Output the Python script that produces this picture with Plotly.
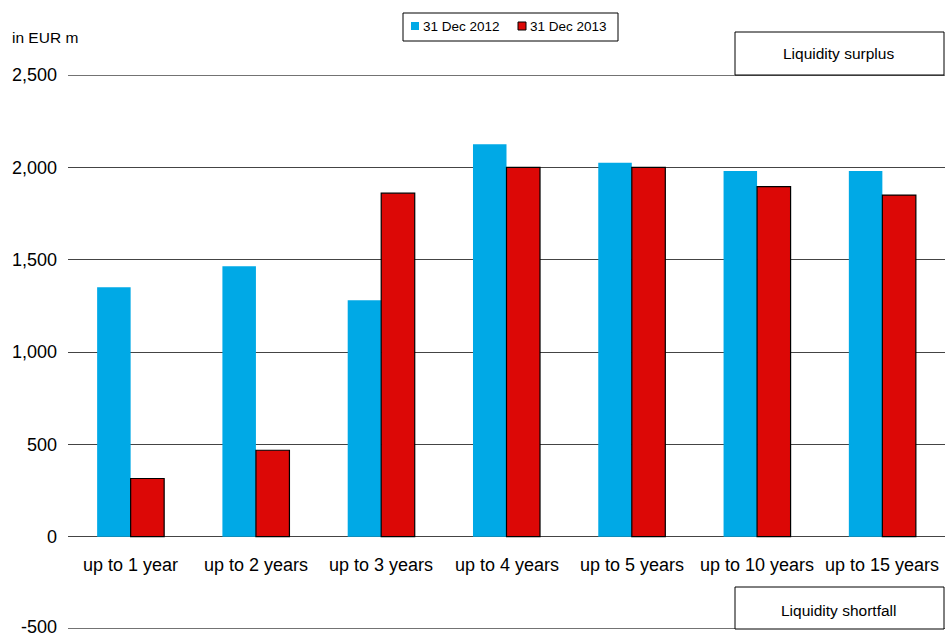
import plotly.graph_objects as go

categories = ["up to 1 year", "up to 2 years", "up to 3 years", "up to 4 years",
              "up to 5 years", "up to 10 years", "up to 15 years"]
series_names = ["31 Dec 2012", "31 Dec 2013"]
values_2012 = [1350, 1465, 1280, 2125, 2025, 1980, 1980]
values_2013 = [315, 468, 1860, 2000, 2000, 1895, 1850]
y_ticks = [0, 500, 1000, 1500, 2000, 2500]
y_tick_labels = ["0", "500", "1,000", "1,500", "2,000", "2,500"]
y_min_label = "-500"
y_min, y_max = -500, 2500

FONT = "Liberation Sans, Arial, sans-serif"
BLUE = "#00A9E6"
RED = "#DC0806"
GRID = "#444444"

L, R, T, B = 68, 0, 75, 9
W, H = 945, 638
PW, PH = W - L - R, H - T - B


def px(x):
    return (x - L) / PW


def py(y):
    return (H - B - y) / PH


fig = go.Figure()
fig.add_trace(go.Bar(x=categories, y=values_2012, name=series_names[0],
                     marker=dict(color=BLUE, line=dict(width=0))))
fig.add_trace(go.Bar(x=categories, y=values_2013, name=series_names[1],
                     marker=dict(color=RED, line=dict(color="black", width=1.2))))

annotations = []
for c in categories:
    annotations.append(dict(x=c, y=0, xref="x", yref="y", text=c, showarrow=False,
                            xanchor="center", yanchor="middle", yshift=-28,
                            font=dict(family=FONT, size=18, color="black")))
annotations.append(dict(x=px(58), y=py(638), xref="paper", yref="paper", text=y_min_label,
                        showarrow=False, xanchor="right", yanchor="bottom", borderpad=0,
                        font=dict(family=FONT, size=18, color="black")))
annotations.append(dict(x=px(10), y=py(38), xref="paper", yref="paper", text="in EUR m",
                        showarrow=False, xanchor="left", yanchor="middle",
                        font=dict(family=FONT, size=15.5, color="black")))
annotations.append(dict(x=px(838), y=py(54), xref="paper", yref="paper",
                        text="Liquidity surplus", showarrow=False,
                        xanchor="center", yanchor="middle",
                        font=dict(family=FONT, size=15.5, color="black")))
annotations.append(dict(x=px(838), y=py(610), xref="paper", yref="paper",
                        text="Liquidity shortfall", showarrow=False,
                        xanchor="center", yanchor="middle",
                        font=dict(family=FONT, size=15.5, color="black")))
# custom legend text
annotations.append(dict(x=px(421), y=py(26), xref="paper", yref="paper",
                        text=series_names[0], showarrow=False, xanchor="left", yanchor="middle",
                        font=dict(family=FONT, size=13.5, color="black")))
annotations.append(dict(x=px(528), y=py(26), xref="paper", yref="paper",
                        text=series_names[1], showarrow=False, xanchor="left", yanchor="middle",
                        font=dict(family=FONT, size=13.5, color="black")))

shapes = [
    # edge grid lines (range limits)
    dict(type="line", xref="paper", yref="y", x0=0, x1=1, y0=y_max, y1=y_max,
         line=dict(color=GRID, width=1.3), layer="below"),
    dict(type="line", xref="paper", yref="y", x0=0, x1=1, y0=y_min, y1=y_min,
         line=dict(color=GRID, width=1.3), layer="below"),
    # label boxes
    dict(type="rect", xref="paper", yref="paper", x0=px(735), x1=px(944), y0=py(75), y1=py(32),
         line=dict(color="black", width=1), fillcolor="white", layer="above"),
    dict(type="rect", xref="paper", yref="paper", x0=px(735), x1=px(944), y0=py(629), y1=py(587),
         line=dict(color="black", width=1), fillcolor="white", layer="above"),
    # legend box
    dict(type="rect", xref="paper", yref="paper", x0=px(403), x1=px(618), y0=py(41), y1=py(13),
         line=dict(color="black", width=1), fillcolor="white", layer="above"),
    # legend symbols
    dict(type="rect", xref="paper", yref="paper", x0=px(411), x1=px(419), y0=py(30), y1=py(22),
         line=dict(width=0), fillcolor=BLUE, layer="above"),
    dict(type="rect", xref="paper", yref="paper", x0=px(518), x1=px(526), y0=py(30), y1=py(22),
         line=dict(color="black", width=1), fillcolor=RED, layer="above"),
]

fig.update_layout(
    width=W, height=H,
    margin=dict(l=L, r=R, t=T, b=B),
    paper_bgcolor="white", plot_bgcolor="white",
    barmode="group", bargap=0.465, bargroupgap=0,
    font=dict(family=FONT, size=16, color="black"),
    showlegend=False,
    xaxis=dict(showticklabels=False, showgrid=False, zeroline=False, showline=False, ticks=""),
    yaxis=dict(range=[y_min, y_max], tickvals=y_ticks, ticktext=y_tick_labels,
               showgrid=True, gridcolor=GRID, gridwidth=1.3,
               zeroline=True, zerolinecolor=GRID, zerolinewidth=1.3,
               showline=False, ticks="", ticklabelstandoff=10,
               tickfont=dict(family=FONT, size=18, color="black")),
    annotations=annotations,
    shapes=shapes,
)

fig.write_html("out.html")
